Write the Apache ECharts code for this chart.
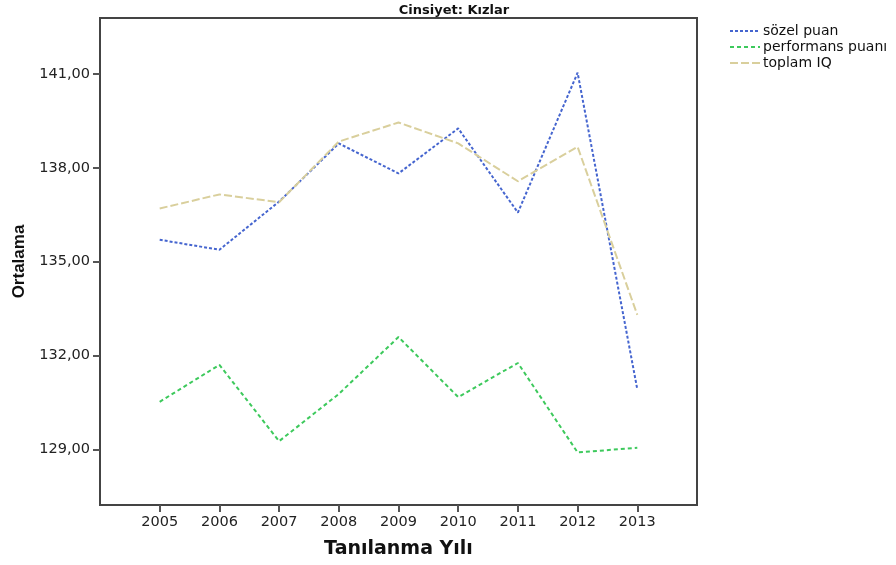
<!DOCTYPE html>
<html>
<head>
<meta charset="utf-8">
<script src="https://cdn.jsdelivr.net/npm/echarts@6/dist/echarts.min.js"></script>
<style>
  html, body { margin: 0; padding: 0; background: #fff; }
  #chart { width: 896px; height: 565px; }
</style>
</head>
<body>
<div id="chart"></div>
<script>
(function () {
    // yillar
    var years = [2005, 2006, 2007, 2008, 2009, 2010, 2011, 2012, 2013];
    var yTicks = [129, 132, 135, 138, 141];
    // ortalamalar
    var sozel = [135.70, 135.38, 136.92, 138.78, 137.82, 139.26, 136.57, 141.04, 130.92];
    var performans = [130.52, 131.70, 129.26, 130.77, 132.59, 130.67, 131.76, 128.90, 129.05];
    var toplamIQ = [136.70, 137.15, 136.90, 138.84, 139.45, 138.78, 137.57, 138.67, 133.30];

    var seriesNames = ['sözel puan', 'performans puanı', 'toplam IQ'];
    var seriesValues = [sozel, performans, toplamIQ];
    var colors = ['#4565cf', '#3dc95c', '#d9cf9c'];
    var dashes = [[3, 2], [4, 3], [8, 3]];

    var series = [];
    for (var i = 0; i < seriesValues.length; i++) {
        var pts = [];
        for (var j = 0; j < years.length; j++) {
            pts.push([years[j], seriesValues[i][j]]);
        }
        series.push({
            name: seriesNames[i],
            type: 'line',
            data: pts,
            symbol: 'none',
            silent: true,
            lineStyle: { color: colors[i], width: 2, type: dashes[i] },
            itemStyle: { color: colors[i] }
        });
    }

    var myChart = echarts.init(document.getElementById('chart'));
    var option = {
        animation: false,
        textStyle: { fontFamily: 'DejaVu Sans, sans-serif' },
        title: {
            text: 'Cinsiyet: Kızlar',
            left: 454,
            textAlign: 'center',
            top: 4,
            padding: 0,
            textStyle: { fontSize: 13, fontWeight: 'bold', color: '#111', fontFamily: 'DejaVu Sans' }
        },
        legend: {
            orient: 'vertical',
            left: 724,
            top: 19,
            itemWidth: 30,
            itemHeight: 14,
            itemGap: 2,
            itemStyle: { opacity: 0 },
            lineStyle: { width: 2 },
            textStyle: { fontSize: 14, color: '#111', padding: [0, 0, 0, -2] },
            data: seriesNames
        },
        grid: {
            left: 100,
            top: 18,
            width: 597,
            height: 487,
            show: true,
            borderColor: '#444',
            borderWidth: 2,
            outerBoundsMode: 'none'
        },
        xAxis: {
            type: 'value',
            min: 2004,
            max: 2014,
            name: 'Tanılanma Yılı',
            nameLocation: 'middle',
            nameGap: 35,
            nameTextStyle: { fontSize: 19, fontWeight: 'bold', color: '#111' },
            axisLine: { show: false },
            axisTick: { show: true, length: 7, lineStyle: { color: '#555', width: 2 }, customValues: years },
            axisLabel: {
                fontSize: 14.5, color: '#222', margin: 10, customValues: years,
                formatter: function (v) { return String(v); }
            },
            splitLine: { show: false }
        },
        yAxis: {
            type: 'value',
            min: 127.22,
            max: 142.79,
            name: 'Ortalama',
            nameLocation: 'middle',
            nameGap: 72,
            nameTextStyle: { fontSize: 17, fontWeight: 'bold', color: '#111', fontFamily: 'Liberation Sans' },
            axisLine: { show: false },
            axisTick: { show: true, length: 7, lineStyle: { color: '#555', width: 2 }, customValues: yTicks },
            axisLabel: {
                fontSize: 14.5, color: '#222', margin: 10, customValues: yTicks,
                formatter: function (v) { return v.toFixed(2).replace('.', ','); }
            },
            splitLine: { show: false }
        },
        series: series
    };
    myChart.setOption(option);
})();
</script>
</body>
</html>
